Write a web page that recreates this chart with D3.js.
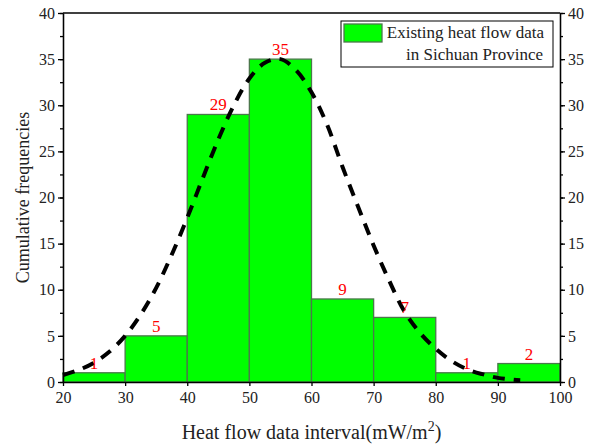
<!DOCTYPE html>
<html lang="en">
<head>
    <meta charset="UTF-8">
    <title>Heat flow histogram</title>
    <style>
        body { margin: 0; background: #fff; }
        svg text { font-family: "Liberation Serif", "Times New Roman", serif; fill: #222; }
        .bar { fill: #00ff00; stroke: #4b784b; stroke-width: 1.3px; }
        .count { fill: #ff0000; font-size: 17px; text-anchor: middle; }
        .axis path, .axis line { stroke: #000; stroke-width: 1.3px; }
        .axis text { font-size: 16px; }
    </style>
</head>
<body>
    <svg width="595" height="447"></svg>
    <script src="https://d3js.org/d3.v7.min.js"></script>
    <script>
        // bins (lower edge, mW/m2) and counts
        const binStart = [20, 30, 40, 50, 60, 70, 80, 90];
        const counts = [1, 5, 29, 35, 9, 7, 1, 2];

        // fitted curve
        const curveX = [20, 22.5, 25, 27.5, 30, 32.5, 35, 37.5, 40, 42.5, 45, 47.5, 50, 52.5, 55,
                        57.5, 60, 62.5, 65, 67.5, 70, 72.5, 75, 77.5, 80, 82.5, 85, 87.5, 90, 92.5, 93.6];
        const curveY = [0.75, 1.3, 2.1, 3.3, 5.0, 7.3, 10.2, 13.8, 17.8, 22.1, 26.3, 30.0, 32.9, 34.6, 35.0,
                        33.8, 31.4, 27.9, 23.3, 19.0, 14.8, 11.0, 7.6, 5.3, 3.6, 2.3, 1.4, 0.85, 0.45, 0.25, 0.2];

        const xTicks = [20, 30, 40, 50, 60, 70, 80, 90, 100];
        const yTicks = [0, 5, 10, 15, 20, 25, 30, 35, 40];
        const yMinor = d3.range(0, 40.1, 2.5);

        const svg = d3.select("svg");
        const margin = { top: 13, right: 35, bottom: 65, left: 63 };
        const width = 595 - margin.left - margin.right,
            height = 447 - margin.top - margin.bottom;

        const g = svg.append("g").attr("transform", `translate(${margin.left},${margin.top})`);

        const x = d3.scaleLinear().domain([20, 100]).range([0, width]);
        const y = d3.scaleLinear().domain([0, 40]).range([height, 0]);

        // bars
        g.selectAll(".bar")
            .data(counts)
            .enter().append("rect")
            .attr("class", "bar")
            .attr("x", (d, i) => x(binStart[i]))
            .attr("width", (d, i) => x(binStart[i] + 10) - x(binStart[i]))
            .attr("y", d => y(d))
            .attr("height", d => height - y(d));

        // dashed fit
        const line = d3.line()
            .x((d, i) => x(curveX[i]))
            .y(d => y(d))
            .curve(d3.curveCatmullRom);

        g.append("path")
            .datum(curveY)
            .attr("d", line)
            .style("fill", "none")
            .style("stroke", "#000")
            .style("stroke-width", "4px")
            .style("stroke-dasharray", "12,9");

        // count labels
        g.selectAll(".count")
            .data(counts)
            .enter().append("text")
            .attr("class", "count")
            .attr("x", (d, i) => x(binStart[i] + 5))
            .attr("y", d => y(d) - 4)
            .text(d => d);

        // frame (top line)
        g.append("line")
            .attr("x1", 0).attr("x2", width)
            .attr("y1", 0).attr("y2", 0)
            .style("stroke", "#000").style("stroke-width", "1.3px");

        // axes
        g.append("g")
            .attr("class", "axis")
            .attr("transform", `translate(0,${height})`)
            .call(d3.axisBottom(x).tickValues(xTicks).tickSize(4).tickPadding(6).tickSizeOuter(0));

        g.append("g").attr("class", "axis")
            .call(d3.axisLeft(y).tickValues(yMinor).tickSize(3).tickFormat("").tickSizeOuter(0));
        g.append("g").attr("class", "axis")
            .call(d3.axisLeft(y).tickValues(yTicks).tickSize(5).tickPadding(3).tickSizeOuter(0));

        g.append("g").attr("class", "axis")
            .attr("transform", `translate(${width},0)`)
            .call(d3.axisRight(y).tickValues(yMinor).tickSize(3).tickFormat("").tickSizeOuter(0));
        g.append("g").attr("class", "axis")
            .attr("transform", `translate(${width},0)`)
            .call(d3.axisRight(y).tickValues(yTicks).tickSize(5).tickPadding(3).tickSizeOuter(0));

        svg.selectAll(".axis text").style("fill", "#222").style("font-family", "Liberation Serif, serif");

        // axis titles
        svg.append("text")
            .attr("transform", `translate(29,${margin.top + height / 2}) rotate(-90)`)
            .attr("text-anchor", "middle")
            .style("font-size", "18px")
            .text("Cumulative frequencies");

        const xt = svg.append("text")
            .attr("x", margin.left + width / 2)
            .attr("y", 439)
            .attr("text-anchor", "middle")
            .style("font-size", "20px");
        xt.append("tspan").text("Heat flow data interval(mW/m");
        xt.append("tspan").attr("dy", -8).style("font-size", "14px").text("2");
        xt.append("tspan").attr("dy", 8).text(")");

        // legend
        const lg = svg.append("g");
        lg.append("rect")
            .attr("x", 341).attr("y", 21).attr("width", 212).attr("height", 46)
            .style("fill", "#fff").style("stroke", "#000").style("stroke-width", "1px");
        lg.append("rect")
            .attr("class", "bar")
            .attr("x", 344).attr("y", 24).attr("width", 38).attr("height", 18);
        lg.append("text")
            .attr("x", 544).attr("y", 38)
            .attr("text-anchor", "end")
            .style("font-size", "17px")
            .text("Existing heat flow data");
        lg.append("text")
            .attr("x", 543).attr("y", 60)
            .attr("text-anchor", "end")
            .style("font-size", "17px")
            .text("in Sichuan Province");
    </script>
</body>
</html>
